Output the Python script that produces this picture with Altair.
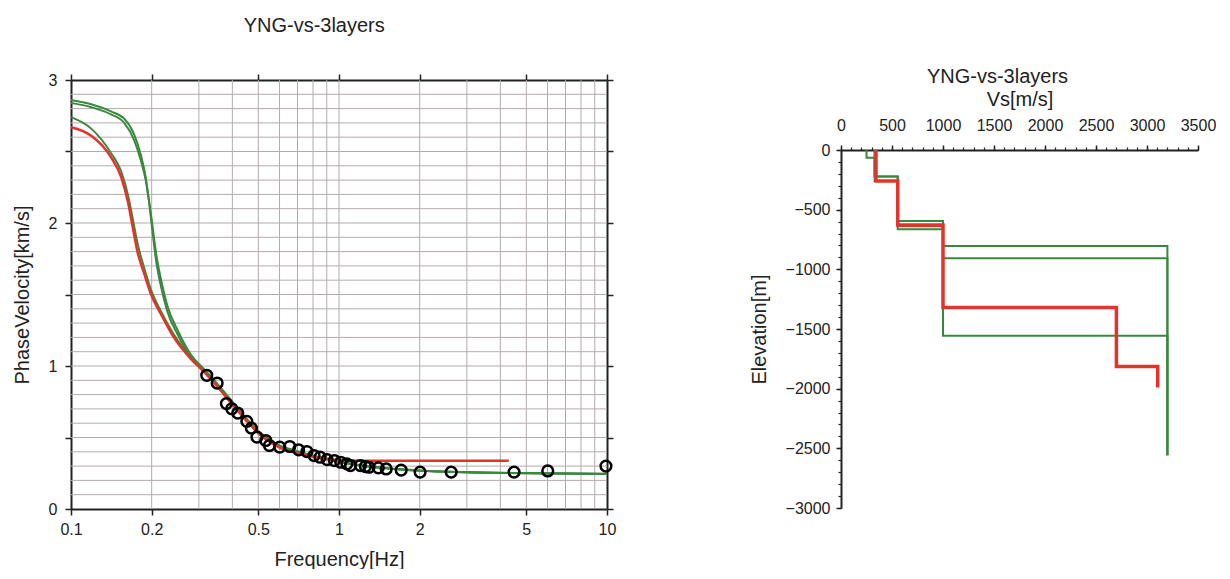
import altair as alt
import pandas as pd

FONT = "Liberation Sans"
INK = "#222222"
GRID = "#b5abab"
RED = "#e2342a"
GREEN = "#3a8840"

# ---------------- Left panel: dispersion curves ----------------
red_f = [0.10, 0.119, 0.141, 0.154, 0.163, 0.170, 0.177, 0.188, 0.199, 0.217, 0.242, 0.280,
         0.313, 0.35, 0.40, 0.45, 0.50, 0.55, 0.60, 0.70, 0.80, 0.90, 1.0, 1.2, 1.5, 2.0, 3.0, 4.3]
red_v = [2.67, 2.61, 2.46, 2.32, 2.15, 1.97, 1.80, 1.64, 1.50, 1.36, 1.20, 1.05,
         0.96, 0.86, 0.73, 0.62, 0.53, 0.47, 0.43, 0.39, 0.365, 0.35, 0.342, 0.338, 0.337, 0.337, 0.337, 0.337]

g1_f = [0.10, 0.119, 0.141, 0.158, 0.172, 0.182, 0.190, 0.196, 0.202, 0.208, 0.217, 0.229, 0.250, 0.280,
        0.313, 0.35, 0.40, 0.45, 0.50, 0.55, 0.60, 0.70, 0.80, 0.90, 1.0, 1.2, 1.5, 2.0, 3.0, 5.0, 10.0]
g1_v = [2.86, 2.83, 2.78, 2.73, 2.62, 2.48, 2.32, 2.13, 1.92, 1.73, 1.55, 1.38, 1.22, 1.06,
        0.97, 0.87, 0.74, 0.63, 0.54, 0.48, 0.44, 0.40, 0.37, 0.35, 0.33, 0.305, 0.285, 0.268, 0.257, 0.25, 0.245]
g2_f = g1_f
g2_v = [2.84, 2.81, 2.76, 2.70, 2.58, 2.44, 2.30, 2.14, 1.96, 1.78, 1.60, 1.42, 1.25, 1.08,
        0.98, 0.88, 0.75, 0.635, 0.545, 0.485, 0.445, 0.405, 0.372, 0.352, 0.332, 0.307, 0.287, 0.27, 0.258, 0.251, 0.246]
g3_f = [0.10, 0.119, 0.141, 0.154, 0.163, 0.170, 0.177, 0.188, 0.199, 0.217, 0.242, 0.280,
        0.313, 0.35, 0.40, 0.45, 0.50, 0.55, 0.60, 0.70, 0.80, 0.90, 1.0, 1.2, 1.5, 2.0, 3.0, 5.0, 10.0]
g3_v = [2.74, 2.66, 2.49, 2.36, 2.20, 2.03, 1.86, 1.68, 1.53, 1.38, 1.22, 1.06,
        0.965, 0.865, 0.735, 0.625, 0.535, 0.475, 0.44, 0.40, 0.37, 0.35, 0.33, 0.305, 0.285, 0.267, 0.256, 0.25, 0.244]

obs_f = [0.321, 0.351, 0.380, 0.398, 0.419, 0.453, 0.471, 0.494, 0.533, 0.550, 0.601, 0.655, 0.707,
         0.759, 0.807, 0.850, 0.903, 0.961, 1.015, 1.070, 1.103, 1.202, 1.255, 1.294, 1.402, 1.500,
         1.706, 2.007, 2.622, 4.50, 6.01, 9.91]
obs_v = [0.935, 0.881, 0.737, 0.701, 0.671, 0.613, 0.566, 0.503, 0.479, 0.444, 0.433, 0.437, 0.414,
         0.402, 0.374, 0.362, 0.345, 0.339, 0.327, 0.316, 0.304, 0.304, 0.297, 0.292, 0.288, 0.280,
         0.272, 0.258, 0.258, 0.258, 0.266, 0.300]

x_major = [0.1, 0.2, 0.5, 1, 2, 5, 10]
x_grid = [0.2, 0.3, 0.4, 0.5, 0.6, 0.7, 0.8, 0.9, 1, 2, 3, 4, 5, 6, 7, 8, 9]
y_ticks = [0, 0.5, 1, 1.5, 2, 2.5, 3]
y_grid = [0.1, 0.2, 0.3, 0.4, 0.5, 0.6, 0.7, 0.8, 0.9, 1.0, 1.1, 1.2, 1.3, 1.4, 1.5, 1.6, 1.7, 1.8,
          1.9, 2.0, 2.1, 2.2, 2.3, 2.4, 2.5, 2.6, 2.7, 2.8, 2.9]

# ---------------- Right panel: Vs profiles ----------------
red_vs = [343, 343, 556, 556, 1000, 1000, 2700, 2700, 3105, 3105]
red_z = [0, -260, -260, -628, -628, -1320, -1320, -1814, -1814, -1990]
p1_vs = [330, 330, 556, 556, 1000, 1000, 3200, 3200]
p1_z = [0, -223, -223, -595, -595, -804, -804, -2557]
p2_vs = [330, 330, 556, 556, 1000, 1000, 3200, 3200]
p2_z = [0, -223, -223, -664, -664, -907, -907, -2557]
p3_vs = [250, 250, 330, 330, 556, 556, 1000, 1000, 3200, 3200]
p3_z = [0, -65, -65, -260, -260, -640, -640, -1557, -1557, -2557]

vs_major = [0, 500, 1000, 1500, 2000, 2500, 3000, 3500]
z_major = [0, -500, -1000, -1500, -2000, -2500, -3000]
vs_minor = list(range(0, 3501, 100))
z_minor = list(range(-3000, 1, 100))


def curves(pairs):
    rows = []
    for name, fs, vs in pairs:
        for i, (f, v) in enumerate(zip(fs, vs)):
            rows.append({"s": name, "f": f, "v": v, "i": i})
    return pd.DataFrame(rows)


def profiles(pairs):
    rows = []
    for name, xs_, zs in pairs:
        for i, (x, z) in enumerate(zip(xs_, zs)):
            rows.append({"s": name, "vs": x, "z": z, "i": i})
    return pd.DataFrame(rows)


green_df = curves([("g1", g1_f, g1_v), ("g2", g2_f, g2_v), ("g3", g3_f, g3_v)])
red_df = curves([("r", red_f, red_v)])
obs_df = pd.DataFrame({"f": obs_f, "v": obs_v})

xs = alt.Scale(type="log", domain=[0.1, 10], nice=False)
ys = alt.Scale(domain=[0, 3], nice=False)

axis_common = dict(domainColor=INK, domainWidth=2, tickColor=INK, tickWidth=1.5, tickSize=6,
                   labelFont=FONT, labelFontSize=16, labelColor=INK, titleFont=FONT,
                   titleFontSize=20, titleFontWeight="normal", titleColor=INK, grid=False,
                   labelOverlap=False, labelFlush=False)

vgrid = alt.Chart(pd.DataFrame({"f": x_grid})).mark_rule(color=GRID, strokeWidth=1).encode(
    x=alt.X("f:Q", scale=xs, axis=alt.Axis(orient="bottom", values=x_major, format="~g",
                                          title="Frequency[Hz]", labelPadding=6, titlePadding=12,
                                          **axis_common)))
hgrid = alt.Chart(pd.DataFrame({"v": y_grid})).mark_rule(color=GRID, strokeWidth=1).encode(
    y=alt.Y("v:Q", scale=ys, axis=alt.Axis(orient="left", values=y_ticks,
                                          labelExpr="datum.value % 1 == 0 ? '' + datum.value : ''",
                                          title="PhaseVelocity[km/s]", labelPadding=8, titlePadding=16,
                                          **axis_common)))
green_lines = alt.Chart(green_df).mark_line(color=GREEN, strokeWidth=2, interpolate="monotone").encode(
    x=alt.X("f:Q", scale=xs, axis=alt.Axis(orient="top", values=x_major, labels=False, title=None,
                                          **axis_common)),
    y=alt.Y("v:Q", scale=ys, axis=alt.Axis(orient="right", values=y_ticks, labels=False, title=None,
                                          **axis_common)),
    detail="s:N", order="i:Q")
red_line = alt.Chart(red_df).mark_line(color=RED, strokeWidth=2.5, interpolate="monotone").encode(
    x=alt.X("f:Q", scale=xs, axis=None), y=alt.Y("v:Q", scale=ys, axis=None), order="i:Q")
points = alt.Chart(obs_df).mark_point(shape="circle", filled=False, color="black", strokeWidth=2.5,
                                      size=115, opacity=1).encode(
    x=alt.X("f:Q", scale=xs, axis=None), y=alt.Y("v:Q", scale=ys, axis=None))

left = alt.layer(vgrid, hgrid, green_lines, red_line, points).resolve_axis(
    x="independent", y="independent").properties(
    width=536, height=429,
    title=alt.TitleParams("YNG-vs-3layers", font=FONT, fontSize=20, fontWeight="normal", color=INK,
                          anchor="middle", frame="bounds", offset=36))

# right
green_prof = profiles([("p1", p1_vs, p1_z), ("p2", p2_vs, p2_z), ("p3", p3_vs, p3_z)])
red_prof = profiles([("r", red_vs, red_z)])
xs2 = alt.Scale(domain=[0, 3500], nice=False)
ys2 = alt.Scale(domain=[-3000, 0], nice=False)
axis2 = dict(axis_common)
axis2["tickSize"] = 5

prof_green = alt.Chart(green_prof).mark_line(color=GREEN, strokeWidth=2).encode(
    x=alt.X("vs:Q", scale=xs2, axis=alt.Axis(orient="top", values=vs_major, format="d", title="Vs[m/s]",
                                            labelPadding=12, titlePadding=8, **axis2)),
    y=alt.Y("z:Q", scale=ys2, axis=alt.Axis(orient="left", values=z_major, format="d",
                                           title="Elevation[m]", labelPadding=6, titlePadding=16,
                                           **axis2)),
    detail="s:N", order="i:Q")
prof_red = alt.Chart(red_prof).mark_line(color=RED, strokeWidth=3.5).encode(
    x=alt.X("vs:Q", scale=xs2, axis=alt.Axis(orient="top", values=vs_minor, labels=False, title=None,
                                            domain=False, tickSize=3, tickColor=INK, tickWidth=1.2,
                                            grid=False)),
    y=alt.Y("z:Q", scale=ys2, axis=alt.Axis(orient="left", values=z_minor, labels=False, title=None,
                                           domain=False, tickSize=3, tickColor=INK, tickWidth=1.2,
                                           grid=False)),
    order="i:Q")

right = alt.layer(prof_green, prof_red).resolve_axis(x="independent", y="independent").properties(
    width=357, height=358,
    title=alt.TitleParams("YNG-vs-3layers", font=FONT, fontSize=20, fontWeight="normal", color=INK,
                          anchor="middle", frame="group", dx=-22, offset=2))


def spacer(h):
    return alt.Chart(pd.DataFrame({"a": [0]})).mark_point(opacity=0, size=1).encode(
        x=alt.value(0), y=alt.value(0)).properties(width=1, height=h)


chart = alt.hconcat(alt.vconcat(spacer(1), left, spacing=0),
                    alt.vconcat(spacer(52), right, spacing=0), spacing=132).configure_view(
    strokeWidth=0).properties(padding={"left": 12, "top": 14, "right": 0, "bottom": 0},
                              background="white")

chart.save("out.html", embed_options={"renderer": "svg", "actions": False})
